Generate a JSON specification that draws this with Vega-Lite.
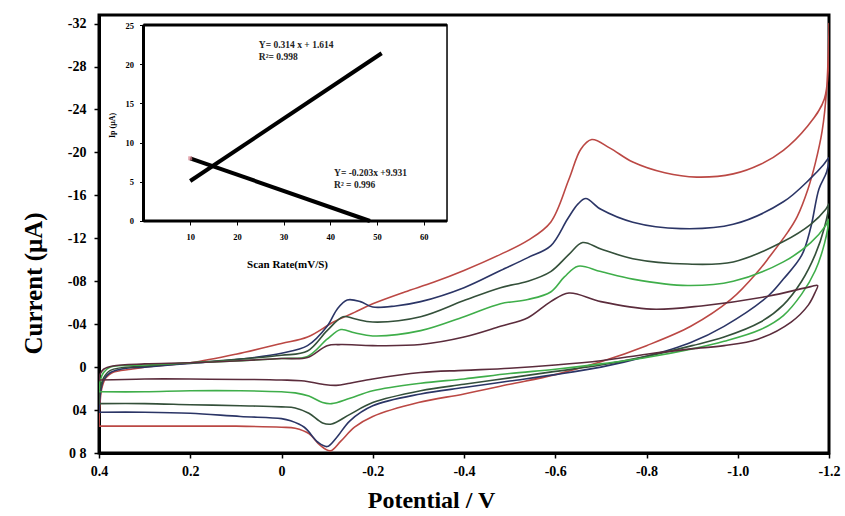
{
  "$schema": "https://vega.github.io/schema/vega-lite/v6.json",
  "width": 730,
  "height": 438,
  "autosize": "none",
  "padding": {"left": 99, "top": 15, "right": 16, "bottom": 63},
  "background": "white",
  "config": {
    "view": {"stroke": "black", "strokeWidth": 3},
    "font": "Liberation Serif",
    "axis": {"labelFont": "Liberation Serif", "titleFont": "Liberation Serif", "labelFontWeight": "bold", "titleFontWeight": "bold", "labelColor": "black", "titleColor": "black", "tickColor": "black", "domainColor": "black", "grid": false, "labelFlush": false, "labelOverlap": false}
  },
  "resolve": {"scale": {"x": "independent", "y": "independent"}, "axis": {"x": "independent", "y": "independent"}},
  "layer": [
    {
      "data": {"values": [
        {"s":"50","i":0,"v":0.4,"c":5.5},{"s":"50","i":1,"v":0.398,"c":3.5},{"s":"50","i":2,"v":0.394,"c":2.0},{"s":"50","i":3,"v":0.385,"c":1.0},{"s":"50","i":4,"v":0.37,"c":0.5},{"s":"50","i":5,"v":0.33,"c":0.2},{"s":"50","i":6,"v":0.3,"c":0.0},{"s":"50","i":7,"v":0.2,"c":-0.4},{"s":"50","i":8,"v":0.1,"c":-1.2},{"s":"50","i":9,"v":0.0,"c":-2.2},{"s":"50","i":10,"v":-0.057,"c":-2.8},{"s":"50","i":11,"v":-0.114,"c":-4.2},{"s":"50","i":12,"v":-0.16,"c":-5.1},{"s":"50","i":13,"v":-0.2,"c":-5.9},{"s":"50","i":14,"v":-0.27,"c":-7.0},{"s":"50","i":15,"v":-0.333,"c":-7.9},{"s":"50","i":16,"v":-0.4,"c":-9.0},{"s":"50","i":17,"v":-0.48,"c":-10.5},{"s":"50","i":18,"v":-0.54,"c":-11.8},{"s":"50","i":19,"v":-0.59,"c":-13.5},{"s":"50","i":20,"v":-0.63,"c":-17.5},{"s":"50","i":21,"v":-0.656,"c":-20.3},{"s":"50","i":22,"v":-0.68,"c":-21.2},{"s":"50","i":23,"v":-0.72,"c":-20.4},{"s":"50","i":24,"v":-0.77,"c":-19.1},{"s":"50","i":25,"v":-0.84,"c":-18.1},{"s":"50","i":26,"v":-0.91,"c":-17.7},{"s":"50","i":27,"v":-0.99,"c":-18.0},{"s":"50","i":28,"v":-1.05,"c":-18.9},{"s":"50","i":29,"v":-1.1,"c":-20.2},{"s":"50","i":30,"v":-1.15,"c":-22.3},{"s":"50","i":31,"v":-1.19,"c":-25.0},{"s":"50","i":32,"v":-1.2,"c":-32.0},{"s":"50","i":33,"v":-1.195,"c":-26.0},{"s":"50","i":34,"v":-1.185,"c":-22.0},{"s":"50","i":35,"v":-1.17,"c":-19.0},{"s":"50","i":36,"v":-1.154,"c":-16.6},{"s":"50","i":37,"v":-1.13,"c":-14.0},{"s":"50","i":38,"v":-1.11,"c":-12.6},{"s":"50","i":39,"v":-1.07,"c":-10.3},{"s":"50","i":40,"v":-1.044,"c":-8.9},{"s":"50","i":41,"v":-0.985,"c":-6.3},{"s":"50","i":42,"v":-0.897,"c":-3.8},{"s":"50","i":43,"v":-0.8,"c":-2.0},{"s":"50","i":44,"v":-0.7,"c":-0.5},{"s":"50","i":45,"v":-0.6,"c":0.7},{"s":"50","i":46,"v":-0.5,"c":1.6},{"s":"50","i":47,"v":-0.4,"c":2.5},{"s":"50","i":48,"v":-0.3,"c":3.3},{"s":"50","i":49,"v":-0.2,"c":4.6},{"s":"50","i":50,"v":-0.16,"c":5.6},{"s":"50","i":51,"v":-0.13,"c":6.9},{"s":"50","i":52,"v":-0.107,"c":7.8},{"s":"50","i":53,"v":-0.085,"c":7.3},{"s":"50","i":54,"v":-0.06,"c":6.2},{"s":"50","i":55,"v":-0.03,"c":5.7},{"s":"50","i":56,"v":0.0,"c":5.6},{"s":"50","i":57,"v":0.1,"c":5.5},{"s":"50","i":58,"v":0.2,"c":5.5},{"s":"50","i":59,"v":0.3,"c":5.5},{"s":"50","i":60,"v":0.4,"c":5.5},

        {"s":"40","i":0,"v":0.4,"c":4.2},{"s":"40","i":1,"v":0.397,"c":2.5},{"s":"40","i":2,"v":0.39,"c":1.2},{"s":"40","i":3,"v":0.375,"c":0.5},{"s":"40","i":4,"v":0.34,"c":0.1},{"s":"40","i":5,"v":0.3,"c":0.0},{"s":"40","i":6,"v":0.2,"c":-0.35},{"s":"40","i":7,"v":0.09,"c":-0.75},{"s":"40","i":8,"v":0.0,"c":-1.3},{"s":"40","i":9,"v":-0.057,"c":-2.0},{"s":"40","i":10,"v":-0.1,"c":-3.8},{"s":"40","i":11,"v":-0.122,"c":-5.4},{"s":"40","i":12,"v":-0.144,"c":-6.25},{"s":"40","i":13,"v":-0.173,"c":-6.1},{"s":"40","i":14,"v":-0.2,"c":-5.6},{"s":"40","i":15,"v":-0.25,"c":-5.7},{"s":"40","i":16,"v":-0.305,"c":-6.1},{"s":"40","i":17,"v":-0.4,"c":-7.4},{"s":"40","i":18,"v":-0.48,"c":-9.0},{"s":"40","i":19,"v":-0.54,"c":-10.2},{"s":"40","i":20,"v":-0.59,"c":-11.3},{"s":"40","i":21,"v":-0.627,"c":-13.8},{"s":"40","i":22,"v":-0.65,"c":-15.2},{"s":"40","i":23,"v":-0.667,"c":-15.7},{"s":"40","i":24,"v":-0.7,"c":-14.7},{"s":"40","i":25,"v":-0.77,"c":-13.5},{"s":"40","i":26,"v":-0.875,"c":-12.9},{"s":"40","i":27,"v":-0.99,"c":-13.3},{"s":"40","i":28,"v":-1.1,"c":-15.4},{"s":"40","i":29,"v":-1.16,"c":-17.6},{"s":"40","i":30,"v":-1.187,"c":-18.8},{"s":"40","i":31,"v":-1.2,"c":-19.5},{"s":"40","i":32,"v":-1.195,"c":-18.2},{"s":"40","i":33,"v":-1.178,"c":-16.6},{"s":"40","i":34,"v":-1.16,"c":-13.0},{"s":"40","i":35,"v":-1.14,"c":-10.4},{"s":"40","i":36,"v":-1.1,"c":-8.2},{"s":"40","i":37,"v":-1.066,"c":-6.6},{"s":"40","i":38,"v":-0.97,"c":-3.8},{"s":"40","i":39,"v":-0.897,"c":-2.3},{"s":"40","i":40,"v":-0.8,"c":-1.0},{"s":"40","i":41,"v":-0.7,"c":0.0},{"s":"40","i":42,"v":-0.6,"c":0.7},{"s":"40","i":43,"v":-0.5,"c":1.3},{"s":"40","i":44,"v":-0.4,"c":1.9},{"s":"40","i":45,"v":-0.305,"c":2.5},{"s":"40","i":46,"v":-0.2,"c":3.6},{"s":"40","i":47,"v":-0.15,"c":5.0},{"s":"40","i":48,"v":-0.12,"c":6.6},{"s":"40","i":49,"v":-0.1,"c":7.4},{"s":"40","i":50,"v":-0.08,"c":7.0},{"s":"40","i":51,"v":-0.05,"c":5.6},{"s":"40","i":52,"v":-0.02,"c":5.0},{"s":"40","i":53,"v":0.0,"c":4.8},{"s":"40","i":54,"v":0.09,"c":4.6},{"s":"40","i":55,"v":0.2,"c":4.3},{"s":"40","i":56,"v":0.3,"c":4.2},{"s":"40","i":57,"v":0.4,"c":4.2},

        {"s":"30","i":0,"v":0.4,"c":3.4},{"s":"30","i":1,"v":0.397,"c":2.0},{"s":"30","i":2,"v":0.39,"c":1.0},{"s":"30","i":3,"v":0.375,"c":0.3},{"s":"30","i":4,"v":0.3,"c":-0.1},{"s":"30","i":5,"v":0.2,"c":-0.4},{"s":"30","i":6,"v":0.09,"c":-0.75},{"s":"30","i":7,"v":0.0,"c":-1.1},{"s":"30","i":8,"v":-0.057,"c":-1.5},{"s":"30","i":9,"v":-0.1,"c":-3.4},{"s":"30","i":10,"v":-0.135,"c":-4.7},{"s":"30","i":11,"v":-0.16,"c":-4.5},{"s":"30","i":12,"v":-0.2,"c":-4.2},{"s":"30","i":13,"v":-0.305,"c":-4.7},{"s":"30","i":14,"v":-0.4,"c":-6.2},{"s":"30","i":15,"v":-0.48,"c":-7.4},{"s":"30","i":16,"v":-0.54,"c":-8.0},{"s":"30","i":17,"v":-0.59,"c":-8.9},{"s":"30","i":18,"v":-0.63,"c":-10.5},{"s":"30","i":19,"v":-0.66,"c":-11.6},{"s":"30","i":20,"v":-0.7,"c":-11.0},{"s":"30","i":21,"v":-0.77,"c":-10.1},{"s":"30","i":22,"v":-0.89,"c":-9.6},{"s":"30","i":23,"v":-0.99,"c":-9.8},{"s":"30","i":24,"v":-1.1,"c":-11.7},{"s":"30","i":25,"v":-1.16,"c":-13.3},{"s":"30","i":26,"v":-1.193,"c":-14.7},{"s":"30","i":27,"v":-1.2,"c":-15.2},{"s":"30","i":28,"v":-1.19,"c":-13.0},{"s":"30","i":29,"v":-1.17,"c":-10.5},{"s":"30","i":30,"v":-1.14,"c":-8.0},{"s":"30","i":31,"v":-1.1,"c":-5.8},{"s":"30","i":32,"v":-1.05,"c":-4.2},{"s":"30","i":33,"v":-0.97,"c":-2.8},{"s":"30","i":34,"v":-0.9,"c":-2.0},{"s":"30","i":35,"v":-0.8,"c":-1.0},{"s":"30","i":36,"v":-0.7,"c":-0.2},{"s":"30","i":37,"v":-0.6,"c":0.4},{"s":"30","i":38,"v":-0.5,"c":1.0},{"s":"30","i":39,"v":-0.4,"c":1.6},{"s":"30","i":40,"v":-0.305,"c":2.2},{"s":"30","i":41,"v":-0.2,"c":3.3},{"s":"30","i":42,"v":-0.15,"c":4.4},{"s":"30","i":43,"v":-0.11,"c":5.3},{"s":"30","i":44,"v":-0.09,"c":5.2},{"s":"30","i":45,"v":-0.06,"c":4.3},{"s":"30","i":46,"v":-0.03,"c":3.8},{"s":"30","i":47,"v":0.0,"c":3.7},{"s":"30","i":48,"v":0.09,"c":3.6},{"s":"30","i":49,"v":0.2,"c":3.5},{"s":"30","i":50,"v":0.3,"c":3.4},{"s":"30","i":51,"v":0.4,"c":3.4},

        {"s":"20","i":0,"v":0.4,"c":2.3},{"s":"20","i":1,"v":0.397,"c":1.2},{"s":"20","i":2,"v":0.39,"c":0.5},{"s":"20","i":3,"v":0.375,"c":0.0},{"s":"20","i":4,"v":0.3,"c":-0.2},{"s":"20","i":5,"v":0.2,"c":-0.4},{"s":"20","i":6,"v":0.09,"c":-0.6},{"s":"20","i":7,"v":0.0,"c":-0.8},{"s":"20","i":8,"v":-0.057,"c":-1.0},{"s":"20","i":9,"v":-0.1,"c":-2.6},{"s":"20","i":10,"v":-0.13,"c":-3.5},{"s":"20","i":11,"v":-0.16,"c":-3.2},{"s":"20","i":12,"v":-0.2,"c":-2.9},{"s":"20","i":13,"v":-0.305,"c":-3.4},{"s":"20","i":14,"v":-0.4,"c":-4.7},{"s":"20","i":15,"v":-0.48,"c":-5.9},{"s":"20","i":16,"v":-0.54,"c":-6.3},{"s":"20","i":17,"v":-0.59,"c":-7.0},{"s":"20","i":18,"v":-0.62,"c":-8.4},{"s":"20","i":19,"v":-0.65,"c":-9.4},{"s":"20","i":20,"v":-0.7,"c":-8.9},{"s":"20","i":21,"v":-0.77,"c":-8.2},{"s":"20","i":22,"v":-0.89,"c":-7.6},{"s":"20","i":23,"v":-0.99,"c":-8.0},{"s":"20","i":24,"v":-1.1,"c":-9.8},{"s":"20","i":25,"v":-1.16,"c":-11.6},{"s":"20","i":26,"v":-1.193,"c":-13.2},{"s":"20","i":27,"v":-1.2,"c":-13.8},{"s":"20","i":28,"v":-1.19,"c":-11.5},{"s":"20","i":29,"v":-1.17,"c":-9.0},{"s":"20","i":30,"v":-1.14,"c":-6.8},{"s":"20","i":31,"v":-1.1,"c":-4.8},{"s":"20","i":32,"v":-1.05,"c":-3.5},{"s":"20","i":33,"v":-0.97,"c":-2.4},{"s":"20","i":34,"v":-0.9,"c":-1.7},{"s":"20","i":35,"v":-0.8,"c":-0.9},{"s":"20","i":36,"v":-0.7,"c":-0.3},{"s":"20","i":37,"v":-0.6,"c":0.2},{"s":"20","i":38,"v":-0.5,"c":0.6},{"s":"20","i":39,"v":-0.4,"c":1.1},{"s":"20","i":40,"v":-0.305,"c":1.5},{"s":"20","i":41,"v":-0.2,"c":2.2},{"s":"20","i":42,"v":-0.15,"c":2.9},{"s":"20","i":43,"v":-0.11,"c":3.4},{"s":"20","i":44,"v":-0.09,"c":3.3},{"s":"20","i":45,"v":-0.06,"c":2.7},{"s":"20","i":46,"v":-0.03,"c":2.4},{"s":"20","i":47,"v":0.0,"c":2.3},{"s":"20","i":48,"v":0.09,"c":2.2},{"s":"20","i":49,"v":0.2,"c":2.2},{"s":"20","i":50,"v":0.3,"c":2.3},{"s":"20","i":51,"v":0.4,"c":2.3},

        {"s":"10","i":0,"v":0.4,"c":1.2},{"s":"10","i":1,"v":0.397,"c":0.6},{"s":"10","i":2,"v":0.39,"c":0.2},{"s":"10","i":3,"v":0.37,"c":-0.1},{"s":"10","i":4,"v":0.3,"c":-0.3},{"s":"10","i":5,"v":0.2,"c":-0.4},{"s":"10","i":6,"v":0.09,"c":-0.6},{"s":"10","i":7,"v":0.0,"c":-0.8},{"s":"10","i":8,"v":-0.057,"c":-0.9},{"s":"10","i":9,"v":-0.1,"c":-2.0},{"s":"10","i":10,"v":-0.13,"c":-2.1},{"s":"10","i":11,"v":-0.2,"c":-2.0},{"s":"10","i":12,"v":-0.305,"c":-2.1},{"s":"10","i":13,"v":-0.4,"c":-2.8},{"s":"10","i":14,"v":-0.48,"c":-3.8},{"s":"10","i":15,"v":-0.54,"c":-4.6},{"s":"10","i":16,"v":-0.59,"c":-6.1},{"s":"10","i":17,"v":-0.63,"c":-6.9},{"s":"10","i":18,"v":-0.7,"c":-6.1},{"s":"10","i":19,"v":-0.81,"c":-5.4},{"s":"10","i":20,"v":-0.92,"c":-5.7},{"s":"10","i":21,"v":-1.066,"c":-6.6},{"s":"10","i":22,"v":-1.16,"c":-7.5},{"s":"10","i":23,"v":-1.175,"c":-7.6},{"s":"10","i":24,"v":-1.17,"c":-7.0},{"s":"10","i":25,"v":-1.155,"c":-5.8},{"s":"10","i":26,"v":-1.117,"c":-4.2},{"s":"10","i":27,"v":-1.044,"c":-2.6},{"s":"10","i":28,"v":-0.97,"c":-2.0},{"s":"10","i":29,"v":-0.897,"c":-1.7},{"s":"10","i":30,"v":-0.8,"c":-1.2},{"s":"10","i":31,"v":-0.7,"c":-0.6},{"s":"10","i":32,"v":-0.6,"c":-0.2},{"s":"10","i":33,"v":-0.5,"c":0.1},{"s":"10","i":34,"v":-0.4,"c":0.3},{"s":"10","i":35,"v":-0.305,"c":0.5},{"s":"10","i":36,"v":-0.2,"c":1.1},{"s":"10","i":37,"v":-0.15,"c":1.5},{"s":"10","i":38,"v":-0.12,"c":1.7},{"s":"10","i":39,"v":-0.09,"c":1.6},{"s":"10","i":40,"v":-0.05,"c":1.3},{"s":"10","i":41,"v":0.0,"c":1.2},{"s":"10","i":42,"v":0.2,"c":1.1},{"s":"10","i":43,"v":0.3,"c":1.1},{"s":"10","i":44,"v":0.4,"c":1.2}
      ]},
      "mark": {"type": "line", "strokeWidth": 1.6, "interpolate": "catmull-rom", "clip": true},
      "encoding": {
        "x": {"field": "v", "type": "quantitative",
          "scale": {"domain": [-1.2, 0.4], "reverse": true, "nice": false, "zero": false},
          "axis": {"orient": "bottom", "values": [0.4, 0.2, 0, -0.2, -0.4, -0.6, -0.8, -1.0, -1.2],
            "labelExpr": "datum.value == 0 ? '0' : (datum.value == -1 ? '-1.0' : toString(datum.value))",
            "labelFontSize": 14, "labelPadding": 6, "tickSize": 5, "tickWidth": 1.5, "domainWidth": 3,
            "title": "Potential / V", "titleFontSize": 24, "titleX": 332, "titleY": 54, "titleAlign": "center", "titleBaseline": "alphabetic"}},
        "y": {"field": "c", "type": "quantitative",
          "scale": {"domain": [-32.8, 8], "reverse": true, "nice": false, "zero": false},
          "axis": {"orient": "left", "values": [-32, -28, -24, -20, -16, -12, -8, -4, 0, 4, 8],
            "labelExpr": "datum.value == -8 ? '-08' : datum.value == -4 ? '-04' : datum.value == 4 ? '04' : datum.value == 8 ? '0 8' : toString(datum.value)",
            "labelFontSize": 14, "labelPadding": 8, "tickSize": 5, "tickWidth": 1.5, "domainWidth": 3,
            "title": "Current (\u03bcA)", "titleFontSize": 25, "titleX": -66, "titleY": 268, "titleAlign": "center", "titleBaseline": "middle", "titleAngle": -90}},
        "color": {"field": "s", "type": "nominal", "legend": null,
          "scale": {"domain": ["50", "40", "30", "20", "10"], "range": ["#bb4844", "#2b3566", "#34503a", "#3fae4a", "#5b2c3c"]}},
        "order": {"field": "i", "type": "quantitative"}
      }
    },
    {
      "layer": [
        {
          "data": {"values": [{"x0": 0, "x1": 65, "y0": 0, "y1": 25}]},
          "mark": {"type": "rect", "fill": "white", "stroke": "black", "strokeWidth": 1.5},
          "encoding": {
            "x": {"field": "x0", "type": "quantitative",
              "scale": {"domain": [-9.53, 146.8], "nice": false, "zero": false},
              "axis": {"orient": "bottom", "offset": -232, "values": [10, 20, 30, 40, 50, 60], "domain": false,
                "labelFontSize": 8.5, "labelPadding": 7, "tickSize": 4, "tickWidth": 1,
                "title": "Scan Rate(mV/S)", "titleFontSize": 11, "titleX": 188, "titleY": 37, "titleAlign": "center", "titleBaseline": "top"}},
            "x2": {"field": "x1"},
            "y": {"field": "y0", "type": "quantitative",
              "scale": {"domain": [-29.6, 26.28], "nice": false, "zero": false},
              "axis": {"orient": "left", "offset": -44.5, "values": [0, 5, 10, 15, 20, 25], "domain": false,
                "labelFontSize": 8.5, "labelPadding": 6, "tickSize": 4, "tickWidth": 1,
                "title": "Ip (\u03bcA)", "titleFontSize": 8, "titleX": -31, "titleY": 110, "titleAlign": "center", "titleBaseline": "middle", "titleAngle": -90}},
            "y2": {"field": "y1"}
          }
        },
        {
          "data": {"values": [
            {"e": "left", "xa": 0, "xb": 0, "ya": 0, "yb": 25},
            {"e": "bottom", "xa": 0, "xb": 65, "ya": 0, "yb": 0},
            {"e": "top", "xa": 0, "xb": 65, "ya": 25, "yb": 25}
          ]},
          "mark": {"type": "rule", "strokeWidth": 3, "color": "black"},
          "encoding": {"x": {"field": "xa", "type": "quantitative"}, "x2": {"field": "xb"}, "y": {"field": "ya", "type": "quantitative"}, "y2": {"field": "yb"}}
        },
        {
          "data": {"values": [
            {"k": "a", "sr": 10, "ip": 5.1}, {"k": "a", "sr": 51, "ip": 21.4},
            {"k": "b", "sr": 10, "ip": 8.0}, {"k": "b", "sr": 48.5, "ip": 0}
          ]},
          "mark": {"type": "line", "strokeWidth": 4, "color": "black"},
          "encoding": {
            "x": {"field": "sr", "type": "quantitative"},
            "y": {"field": "ip", "type": "quantitative"},
            "detail": {"field": "k"}
          }
        },
        {
          "data": {"values": [{"sr": 10, "ip": 8.0}]},
          "mark": {"type": "point", "shape": "square", "size": 16, "filled": true, "color": "#d9838f"},
          "encoding": {"x": {"field": "sr", "type": "quantitative"}, "y": {"field": "ip", "type": "quantitative"}}
        },
        {
          "data": {"values": [
            {"sr": 24.7, "ip": 22.4, "t": "Y= 0.314 x + 1.614"},
            {"sr": 24.7, "ip": 20.9, "t": "R\u00b2= 0.998"},
            {"sr": 40.8, "ip": 6.1, "t": "Y= -0.203x +9.931"},
            {"sr": 40.8, "ip": 4.6, "t": "R\u00b2 = 0.996"}
          ]},
          "mark": {"type": "text", "align": "left", "baseline": "middle", "fontSize": 9.5, "fontWeight": "bold", "font": "Liberation Serif", "color": "#222"},
          "encoding": {"x": {"field": "sr", "type": "quantitative"}, "y": {"field": "ip", "type": "quantitative"}, "text": {"field": "t"}}
        }
      ]
    }
  ]
}
